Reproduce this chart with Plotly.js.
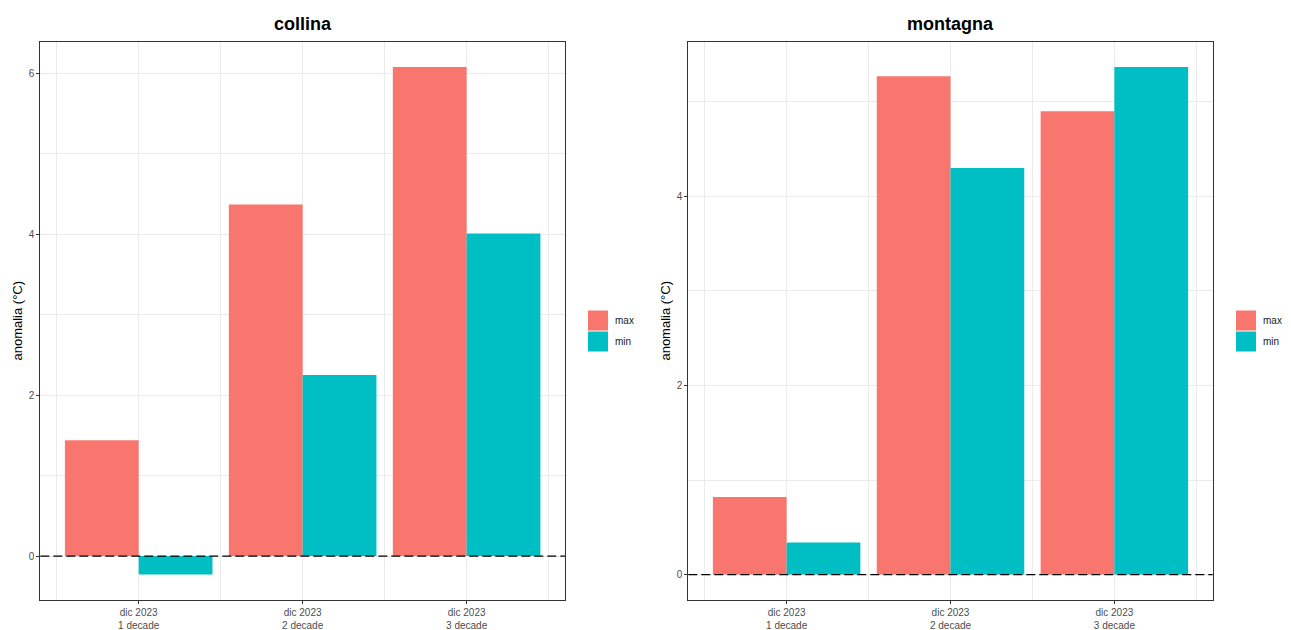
<!DOCTYPE html>
<html>
<head>
<meta charset="utf-8">
<script src="https://cdn.plot.ly/plotly-3.0.1.min.js"></script>
<style>
  html, body { margin: 0; padding: 0; background: #ffffff; }
  #chart { width: 1291px; height: 630px; }
</style>
</head>
<body>
<div id="chart"></div>
<script>
// Temperature anomalies (°C) for December 2023, by ten-day period
const periodPositions = [0, 1, 2];
const periodLabels = ["dic 2023<br>1 decade", "dic 2023<br>2 decade", "dic 2023<br>3 decade"];
const seriesNames = ["max", "min"];
const seriesColors = ["#F8766D", "#00BFC4"];

const panelTitles = ["collina", "montagna"];
const collinaMax = [1.44, 4.37, 6.08];
const collinaMin = [-0.23, 2.25, 4.01];
const montagnaMax = [0.82, 5.27, 4.90];
const montagnaMin = [0.34, 4.30, 5.37];

const FONT = "Liberation Sans, Arial, Helvetica, sans-serif";
const W = 1291, H = 630;
const px = v => v / W;
const py = v => 1 - v / H;

// Panel geometry (pixels)
const panels = [
  { left: 40.3, right: 565.0, xa: "x", ya: "y", legendX: 588, values: [collinaMax, collinaMin] },
  { left: 688.3, right: 1212.7, xa: "x2", ya: "y2", legendX: 1236, values: [montagnaMax, montagnaMin] }
];
const plotTop = 41.5, plotBottom = 600;

// y range with 5% padding around the data (bars start at 0)
function paddedRange(arrays) {
  const all = [].concat(...arrays, [0]);
  const lo = Math.min(...all), hi = Math.max(...all);
  const pad = (hi - lo) * 0.05;
  return [lo - pad, hi + pad];
}

const traces = [];
const shapes = [];
const annotations = [];
const layout = {
  width: W, height: H,
  margin: { l: 0, r: 0, t: 0, b: 0 },
  paper_bgcolor: "#ffffff",
  plot_bgcolor: "#ffffff",
  barmode: "group",
  bargap: 0.1,
  bargroupgap: 0,
  showlegend: false,
  font: { family: FONT, color: "#4d4d4d", size: 10 }
};

panels.forEach((p, i) => {
  const sfx = i === 0 ? "" : "2";
  p.values.forEach((vals, k) => {
    traces.push({
      type: "bar",
      name: seriesNames[k],
      x: periodPositions,
      y: vals,
      xaxis: p.xa,
      yaxis: p.ya,
      offsetgroup: seriesNames[k],
      marker: { color: seriesColors[k], line: { width: 0 } },
      hoverinfo: "y+name"
    });
  });

  layout["xaxis" + sfx] = {
    domain: [px(p.left), px(p.right)],
    anchor: "y" + sfx,
    range: [-0.6, 2.6],
    tickmode: "array",
    tickvals: periodPositions,
    ticktext: periodLabels,
    ticks: "outside", ticklen: 3, tickwidth: 1, tickcolor: "#333333",
    tickfont: { family: FONT, size: 10, color: "#4d4d4d" },
    showgrid: true, gridcolor: "#ebebeb", gridwidth: 1,
    minor: { tick0: 0.5, dtick: 1, showgrid: true, gridcolor: "#ebebeb", gridwidth: 1, ticks: "" },
    showline: true, mirror: true, linecolor: "#333333", linewidth: 1,
    zeroline: false, fixedrange: true
  };
  layout["yaxis" + sfx] = {
    domain: [py(plotBottom), py(plotTop)],
    anchor: "x" + sfx,
    range: paddedRange(p.values),
    dtick: 2, tick0: 0,
    ticks: "outside", ticklen: 3, tickwidth: 1, tickcolor: "#333333",
    tickfont: { family: FONT, size: 10, color: "#4d4d4d" },
    showgrid: true, gridcolor: "#ebebeb", gridwidth: 1,
    minor: { dtick: 1, showgrid: true, gridcolor: "#ebebeb", gridwidth: 1, ticks: "" },
    showline: true, mirror: true, linecolor: "#333333", linewidth: 1,
    zeroline: false, fixedrange: true,
    title: { text: "anomalia (°C)", font: { family: FONT, size: 13, color: "#000000" }, standoff: 3 }
  };

  // dashed reference line at zero
  shapes.push({
    type: "line", xref: p.xa + " domain", yref: p.ya,
    x0: 0, x1: 1, y0: 0, y1: 0,
    line: { color: "#000000", width: 1.2, dash: "9px,4px" },
    layer: "above"
  });

  // panel title
  annotations.push({
    text: "<b>" + panelTitles[i] + "</b>",
    xref: "paper", yref: "paper",
    x: px((p.left + p.right) / 2), y: py(24),
    xanchor: "center", yanchor: "middle",
    showarrow: false,
    font: { family: FONT, size: 18, color: "#000000" }
  });

  // legend keys
  seriesNames.forEach((name, k) => {
    const top = 310.5 + k * 21;
    shapes.push({
      type: "rect", xref: "paper", yref: "paper",
      x0: px(p.legendX), x1: px(p.legendX + 20),
      y0: py(top + 20), y1: py(top),
      fillcolor: seriesColors[k], line: { width: 0 }
    });
    annotations.push({
      text: name,
      xref: "paper", yref: "paper",
      x: px(p.legendX + 25), y: py(top + 10),
      xanchor: "left", yanchor: "middle",
      showarrow: false,
      font: { family: FONT, size: 10, color: "#1a1a1a" }
    });
  });
});

layout.shapes = shapes;
layout.annotations = annotations;

Plotly.newPlot("chart", traces, layout, { displayModeBar: false, staticPlot: true });
</script>
</body>
</html>
